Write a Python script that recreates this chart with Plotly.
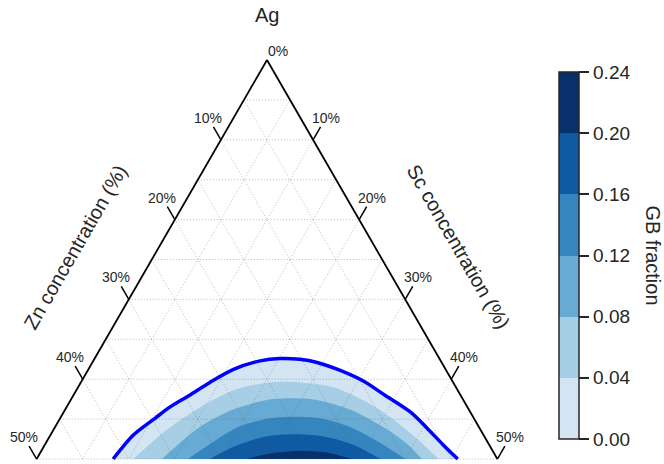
import numpy as np
import plotly.graph_objects as go

# ---- GB fraction levels and band colours ----
levels = [0.00, 0.04, 0.08, 0.12, 0.16, 0.20, 0.24]
level_labels = ["0.00", "0.04", "0.08", "0.12", "0.16", "0.20", "0.24"]
band_colors = ["#d3e4f3", "#a6cee4", "#67abd4", "#3585bf", "#1059a3", "#08306b"]

# ---- iso-GB-fraction boundaries, compositions in % (Ag = 100 - Zn - Sc) ----
# outer boundary of the GB-forming region (GB fraction > 0)
zn_000 = [41.7, 38.0, 34.6, 32.3, 29.4, 26.4, 23.1, 19.6, 17.3, 15.2, 13.5, 11.5, 9.7, 8.2, 6.5, 5.7, 5.0, 4.3]
sc_000 = [8.3, 9.0, 10.3, 11.2, 12.6, 14.0, 15.7, 18.1, 20.1, 22.3, 24.4, 27.4, 30.5, 33.8, 37.6, 40.4, 43.2, 45.7]
# GB fraction = 0.04
zn_004 = [39.5, 34.0, 29.0, 24.4, 19.9, 16.6, 13.3, 10.6, 8.7, 7.3, 6.4]
sc_004 = [10.5, 12.3, 14.5, 17.0, 20.5, 23.8, 27.7, 32.3, 36.5, 40.5, 43.6]
# GB fraction = 0.08
zn_008 = [36.4, 30.3, 25.6, 21.3, 18.7, 15.9, 12.9, 10.4, 8.8, 8.2]
sc_008 = [13.6, 15.7, 18.2, 21.3, 23.7, 26.7, 30.9, 35.6, 39.4, 41.8]
# GB fraction = 0.12
zn_012 = [33.6, 29.5, 25.9, 22.1, 19.3, 16.7, 14.0, 12.1, 10.0]
sc_012 = [16.4, 18.2, 20.0, 22.8, 25.4, 28.2, 32.0, 35.5, 40.0]
# GB fraction = 0.16
zn_016 = [31.2, 27.7, 23.8, 20.2, 17.3, 14.6, 12.7]
sc_016 = [18.8, 20.7, 23.4, 26.7, 29.9, 33.7, 37.3]
# GB fraction = 0.20
zn_020 = [27.2, 24.3, 20.9, 18.0, 15.8]
sc_020 = [22.8, 25.0, 28.1, 31.2, 34.2]

band_boundaries = [
    (zn_000, sc_000),
    (zn_004, sc_004),
    (zn_008, sc_008),
    (zn_012, sc_012),
    (zn_016, sc_016),
    (zn_020, sc_020),
]

# ---- ternary axes: ticks every 10 %, dotted grid every 5 %, Ag >= 50 % shown ----
tick_values = [10, 20, 30, 40, 50]
tick_labels = ["10%", "20%", "30%", "40%", "50%"]
grid_values = [5, 10, 15, 20, 25, 30, 35, 40, 45, 50]
ag_floor = 50  # lowest Ag content drawn (Zn + Sc <= 50)

FONT = "Liberation Sans, Arial, Helvetica, sans-serif"
TEXT = "#262626"
W, H = 664, 464
PX = 9.215           # pixels per 1 % along a triangle edge
APEX_PX = (267, 60)  # apex position on the page
S3 = np.sqrt(3) / 2


def to_xy(zn, sc):
    """Ternary composition (Zn %, Sc %) -> cartesian position, apex at (0, 0)."""
    zn = np.asarray(zn, dtype=float)
    sc = np.asarray(sc, dtype=float)
    return (sc - zn) / 2.0, -(zn + sc) * S3


fig = go.Figure()

# filled GB-fraction bands, outermost first
for (zn, sc), col in zip(band_boundaries, band_colors):
    x, y = to_xy(zn, sc)
    fig.add_trace(go.Scatter(
        x=x, y=y, mode="lines", fill="toself", fillcolor=col,
        line=dict(width=0, shape="spline", smoothing=0.8),
        hoverinfo="skip", showlegend=False))

# dotted grid
gx, gy = [], []
for g in grid_values:
    segs = [((g, 0), (g, ag_floor - g)),      # constant Zn
            ((0, g), (ag_floor - g, g)),      # constant Sc
            ((g, 0), (0, g))]                 # constant Ag
    for (z0, s0), (z1, s1) in segs:
        x, y = to_xy([z0, z1], [s0, s1])
        gx += list(x) + [None]
        gy += list(y) + [None]
fig.add_trace(go.Scatter(
    x=gx, y=gy, mode="lines",
    line=dict(color="rgba(90,90,90,0.45)", width=0.9, dash="1px,2px"),
    hoverinfo="skip", showlegend=False))

# outline of the GB-forming region
x, y = to_xy(zn_000, sc_000)
fig.add_trace(go.Scatter(
    x=x, y=y, mode="lines",
    line=dict(color="#0000ff", width=3.5, shape="spline", smoothing=0.8),
    hoverinfo="skip", showlegend=False))

# triangle edges (Zn side on the left, Sc side on the right)
ex, ey = [], []
for zn_end, sc_end in [(ag_floor, 0), (0, ag_floor)]:
    x, y = to_xy([0, zn_end], [0, sc_end])
    ex += list(x) + [None]
    ey += list(y) + [None]
fig.add_trace(go.Scatter(
    x=ex, y=ey, mode="lines", line=dict(color="black", width=1.8),
    hoverinfo="skip", showlegend=False))

# ticks and tick labels
tick_len = 15 / PX
lab_off = 25.5 / PX
tx, ty = [], []
annotations = []
for v, lab in zip(tick_values, tick_labels):
    for (zn, sc), d in [((v, 0), (-0.5, S3)), ((0, v), (0.5, S3))]:
        bx, by = to_xy(zn, sc)
        bx, by = float(bx), float(by)
        tx += [bx, bx + tick_len * d[0], None]
        ty += [by, by + tick_len * d[1], None]
        annotations.append(dict(
            x=bx + lab_off * d[0], y=by + lab_off * d[1], text=lab,
            showarrow=False, xanchor="center", yanchor="middle",
            font=dict(family=FONT, size=14, color=TEXT)))
fig.add_trace(go.Scatter(
    x=tx, y=ty, mode="lines", line=dict(color="black", width=1.5),
    hoverinfo="skip", showlegend=False))

# apex labels
annotations.append(dict(x=0, y=0, text="0%", showarrow=False, xshift=11, yshift=9,
                        xanchor="center", yanchor="middle",
                        font=dict(family=FONT, size=14, color=TEXT)))
annotations.append(dict(x=0, y=0, text="Ag", showarrow=False, yshift=45,
                        xanchor="center", yanchor="middle",
                        font=dict(family=FONT, size=20, color=TEXT)))

# axis titles, offset outward from each edge
title_pos = 28
title_off = 72 / PX
lx, ly = to_xy(title_pos, 0)
annotations.append(dict(x=float(lx) - title_off * S3, y=float(ly) + title_off * 0.5,
                        text="Zn concentration (%)", textangle=-60, showarrow=False,
                        xanchor="center", yanchor="middle",
                        font=dict(family=FONT, size=20, color=TEXT)))
rx, ry = to_xy(0, title_pos)
annotations.append(dict(x=float(rx) + title_off * S3, y=float(ry) + title_off * 0.5,
                        text="Sc concentration (%)", textangle=60, showarrow=False,
                        xanchor="center", yanchor="middle",
                        font=dict(family=FONT, size=20, color=TEXT)))

# colour bar for the GB fraction bands
n = len(band_colors)
colorscale = []
for i, c in enumerate(band_colors):
    colorscale += [[i / n, c], [(i + 1) / n, c]]
cb_top, cb_bot, cb_left = 72, 439, 559
fig.add_trace(go.Scatter(
    x=[0], y=[0], mode="markers",
    marker=dict(size=1, opacity=0, color=[levels[0]], cmin=levels[0], cmax=levels[-1],
                colorscale=colorscale, showscale=True,
                colorbar=dict(
                    thickness=20, thicknessmode="pixels",
                    len=(cb_bot - cb_top) / H, lenmode="fraction",
                    x=cb_left / W, xanchor="left", xpad=0,
                    y=1 - (cb_top + cb_bot) / 2 / H, yanchor="middle", ypad=0,
                    outlinewidth=1.5, outlinecolor=TEXT,
                    tickmode="array", tickvals=levels, ticktext=level_labels,
                    ticks="outside", ticklen=10, tickwidth=1.5, tickcolor=TEXT,
                    tickfont=dict(family=FONT, size=19, color=TEXT))),
    hoverinfo="skip", showlegend=False))
annotations.append(dict(x=653 / W, y=1 - (cb_top + cb_bot) / 2 / H, xref="paper", yref="paper",
                        text="GB fraction", textangle=90, showarrow=False,
                        xanchor="center", yanchor="middle",
                        font=dict(family=FONT, size=20, color=TEXT)))

x0 = -APEX_PX[0] / PX
x1 = (W - APEX_PX[0]) / PX
y1 = APEX_PX[1] / PX
y0 = -(H - APEX_PX[1]) / PX
fig.update_layout(
    width=W, height=H, margin=dict(l=0, r=0, t=0, b=0),
    paper_bgcolor="white", plot_bgcolor="white", showlegend=False,
    xaxis=dict(visible=False, range=[x0, x1], fixedrange=True),
    yaxis=dict(visible=False, range=[y0, y1], fixedrange=True),
    annotations=annotations,
)

fig.write_html("out.html")
